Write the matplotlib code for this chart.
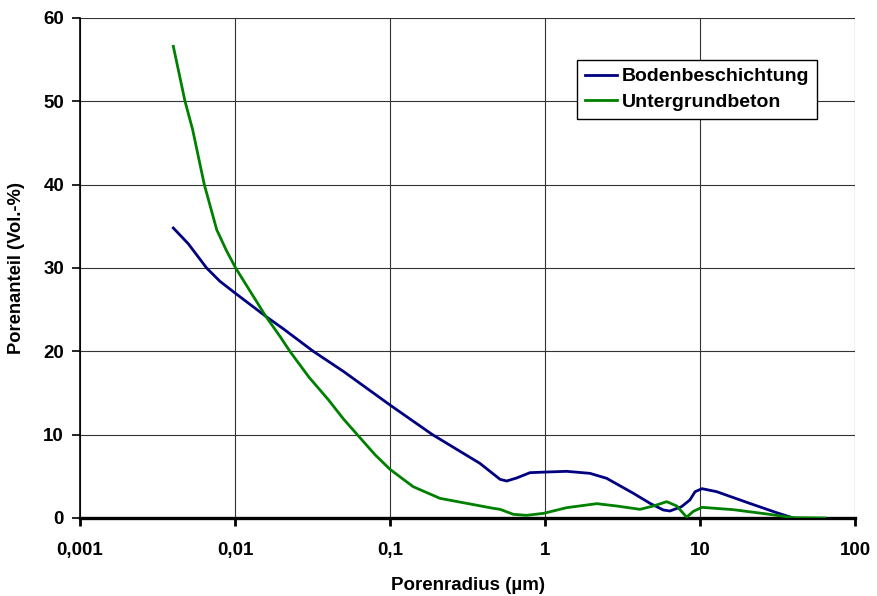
import matplotlib.pyplot as plt
from matplotlib.ticker import FixedLocator, FixedFormatter, NullLocator

plt.rcParams['font.family'] = ['Liberation Sans', 'DejaVu Sans']
plt.rcParams['font.weight'] = 'bold'

# Porenradius (µm) / Porenanteil (Vol.-%)
boden_x = [0.004, 0.005, 0.00656, 0.008, 0.01, 0.0158, 0.0205, 0.032, 0.05,
           0.1, 0.188, 0.38, 0.513, 0.566, 0.656, 0.8, 1.026, 1.38, 1.95,
           2.5, 3.72, 4.76, 5.8, 6.4, 7.6, 8.6, 9.3, 10.3, 12.8, 20.9, 31.2,
           40.0]
boden_y = [34.8, 32.9, 30.0, 28.4, 27.0, 24.2, 22.7, 20.0, 17.6,
           13.56, 10.0, 6.56, 4.64, 4.44, 4.8, 5.44, 5.52, 5.6, 5.36,
           4.76, 2.96, 1.76, 0.96, 0.84, 1.36, 2.16, 3.16, 3.52, 3.16, 1.76,
           0.64, 0.0]

unter_x = [0.004, 0.00476, 0.00533, 0.00634, 0.00762, 0.0088, 0.0101, 0.0158,
           0.0195, 0.0226, 0.03, 0.04, 0.05, 0.0615, 0.08, 0.1, 0.141, 0.21,
           0.312, 0.464, 0.513, 0.625, 0.76, 0.98, 1.38, 2.16, 2.9, 4.1, 5.0,
           6.1, 7.08, 8.2, 9.06, 10.3, 16.4, 27.0, 40.0, 64.0]
unter_y = [56.6, 50.0, 46.6, 40.0, 34.6, 32.1, 30.0, 24.2,
           21.8, 20.0, 16.9, 14.2, 11.9, 10.0, 7.6, 5.84, 3.76, 2.36,
           1.76, 1.16, 1.04, 0.44, 0.32, 0.56, 1.24, 1.72, 1.44, 1.04, 1.44,
           1.96, 1.44, 0.1, 0.8, 1.28, 1.0, 0.48, 0.04, 0.0]

x_ticks = [0.001, 0.01, 0.1, 1, 10, 100]
x_labels = ['0,001', '0,01', '0,1', '1', '10', '100']
y_ticks = [0, 10, 20, 30, 40, 50, 60]

fig = plt.figure(figsize=(8.77, 5.96), dpi=100)
ax = fig.add_axes([80 / 877, 78 / 596, 775 / 877, 500 / 596])

ax.plot(boden_x, boden_y, color='#000080', lw=2, label='Bodenbeschichtung', zorder=3)
ax.plot(unter_x, unter_y, color='#008000', lw=2, label='Untergrundbeton', zorder=3)

ax.set_xscale('log')
ax.set_xlim(0.001, 100)
ax.set_ylim(0, 60)
ax.xaxis.set_major_locator(FixedLocator(x_ticks))
ax.xaxis.set_major_formatter(FixedFormatter(x_labels))
ax.xaxis.set_minor_locator(NullLocator())
ax.set_yticks(y_ticks)

ax.grid(True, color='#333333', lw=0.8)
ax.set_axisbelow(True)
for s in ['top', 'right']:
    ax.spines[s].set_visible(False)
ax.spines['bottom'].set_linewidth(2.4)
ax.spines['left'].set_linewidth(1.2)
ax.tick_params(axis='both', direction='out', length=5.5, labelsize=13.5, width=1.2)
ax.tick_params(axis='x', width=2, pad=12)
ax.tick_params(axis='y', pad=6)

ax.set_xlabel('Porenradius (µm)', fontsize=13.5, fontweight='bold')
ax.set_ylabel('Porenanteil (Vol.-%)', fontsize=13.2, fontweight='bold')
ax.xaxis.set_label_coords(0.5, -0.118)
ax.yaxis.set_label_coords(-0.071, 0.5)

leg = ax.legend(loc='upper left', bbox_to_anchor=(497 / 775, 1 - 42 / 500),
                borderaxespad=0, fontsize=14, frameon=True, fancybox=False,
                framealpha=1, edgecolor='black', handlelength=1.65,
                handletextpad=0.25, borderpad=0.4, labelspacing=0.42)
leg.get_frame().set_linewidth(1)

fig.savefig('out.png', dpi=100)
